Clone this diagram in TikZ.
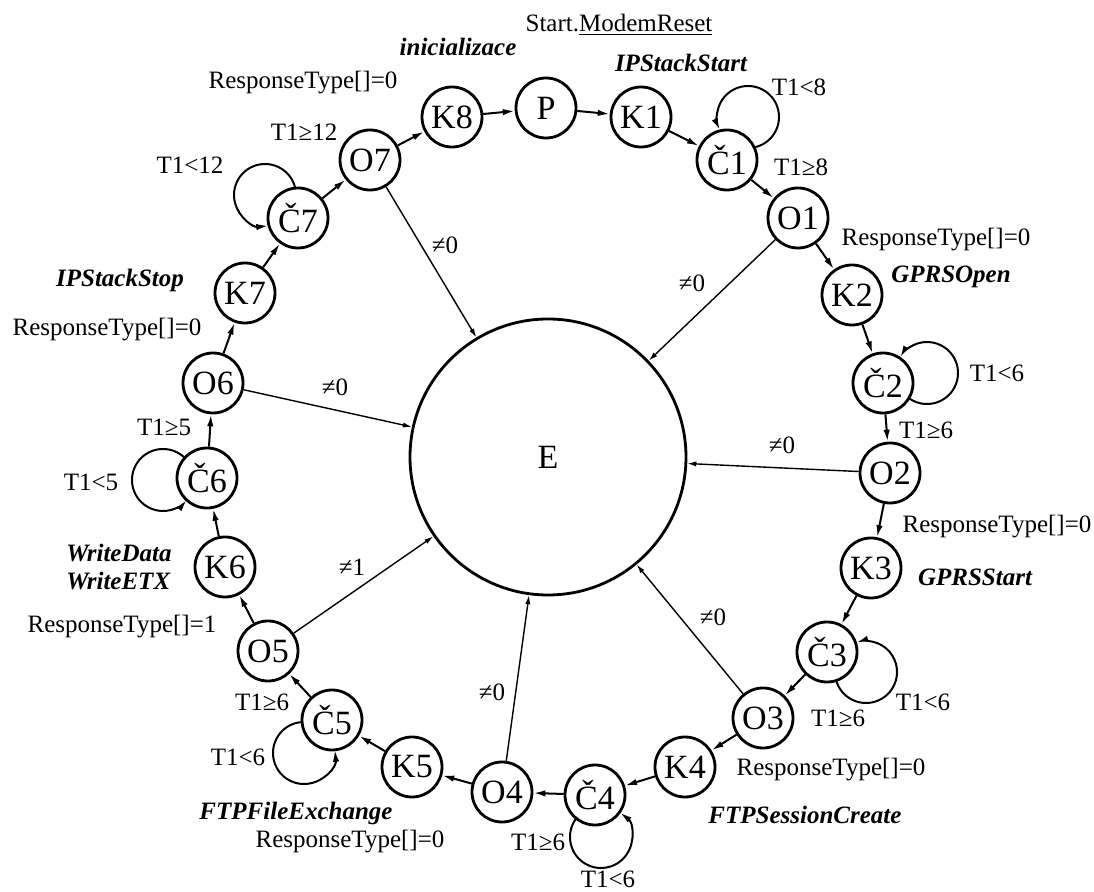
\documentclass[tikz,border=0pt]{standalone}
\usepackage{fontspec}
\setmainfont{Liberation Serif}
\usetikzlibrary{arrows.meta,calc}

\begin{document}
\begin{tikzpicture}[x=0.5pt, y=0.5pt,
  st/.style={draw, circle, line width=1.4pt, minimum size=30pt, inner sep=0pt, font=\fontsize{17}{17}\selectfont},
  bigst/.style={draw, circle, line width=1.4pt, minimum size=138pt, inner sep=0pt, font=\fontsize{17}{17}\selectfont},
  lbl/.style={inner sep=0pt, font=\fontsize{12.5}{14}\selectfont},
  act/.style={inner sep=0pt, align=left, font=\fontsize{12.5}{14}\selectfont\bfseries\itshape},
  arr/.style={-{Latex[length=6pt,width=3.2pt]}, line width=1pt},
  errarr/.style={-{Latex[length=4.5pt,width=2.6pt]}, line width=0.7pt}
]
  \useasboundingbox (0,0) rectangle (1094,-892);

  % states on the ring
  \node[st] (p) at (546,-108) {P};
  \node[st] (k1) at (641,-117) {K1};
  \node[st] (c1) at (727,-160) {Č1};
  \node[st] (o1) at (798,-218) {O1};
  \node[st] (k2) at (852,-295) {K2};
  \node[st] (c2) at (883,-383) {Č2};
  \node[st] (o2) at (890,-473) {O2};
  \node[st] (k3) at (871,-568) {K3};
  \node[st] (c3) at (827,-652) {Č3};
  \node[st] (o3) at (763,-718) {O3};
  \node[st] (k4) at (685,-767) {K4};
  \node[st] (c4) at (595,-795) {Č4};
  \node[st] (o4) at (502,-792) {O4};
  \node[st] (k5) at (412,-767) {K5};
  \node[st] (c5) at (332,-720) {Č5};
  \node[st] (o5) at (268,-651) {O5};
  \node[st] (k6) at (225,-567) {K6};
  \node[st] (c6) at (207,-478) {Č6};
  \node[st] (o6) at (213,-383) {O6};
  \node[st] (k7) at (245,-293) {K7};
  \node[st] (c7) at (298,-218) {Č7};
  \node[st] (o7) at (370,-160) {O7};
  \node[st] (k8) at (452,-117) {K8};
  \node[bigst] (e) at (548,-457) {E};

  % ring
  \draw[arr] (k8) -- (p);
  \draw[arr] (p) -- (k1);
  \draw[arr] (k1) -- (c1);
  \draw[arr] (c1) -- (o1);
  \draw[arr] (o1) -- (k2);
  \draw[arr] (k2) -- (c2);
  \draw[arr] (c2) -- (o2);
  \draw[arr] (o2) -- (k3);
  \draw[arr] (k3) -- (c3);
  \draw[arr] (c3) -- (o3);
  \draw[arr] (o3) -- (k4);
  \draw[arr] (k4) -- (c4);
  \draw[arr] (c4) -- (o4);
  \draw[arr] (o4) -- (k5);
  \draw[arr] (k5) -- (c5);
  \draw[arr] (c5) -- (o5);
  \draw[arr] (o5) -- (k6);
  \draw[arr] (k6) -- (c6);
  \draw[arr] (c6) -- (o6);
  \draw[arr] (o6) -- (k7);
  \draw[arr] (k7) -- (c7);
  \draw[arr] (c7) -- (o7);
  \draw[arr] (o7) -- (k8);

  % waiting loops
  \draw[arr] ($(c1)+(21,43)+(-78:31)$) arc[start angle=-78, end angle=205, radius=31];
  \draw[arr] ($(c2)+(44,10)+(-124:31)$) arc[start angle=-124, end angle=150, radius=31];
  \draw[arr] ($(c3)+(39,-20)+(-163:31)$) arc[start angle=-163, end angle=108, radius=31];
  \draw[arr] ($(c4)+(6,-42)+(-215:31)$) arc[start angle=-215, end angle=52, radius=31];
  \draw[arr] ($(c5)+(-28,-33)+(-264:31)$) arc[start angle=-264, end angle=6, radius=31];
  \draw[arr] ($(c6)+(-44,-2)+(45:31)$) arc[start angle=45, end angle=320, radius=31];
  \draw[arr] ($(c7)+(-33,23)+(15:31)$) arc[start angle=15, end angle=276, radius=31];

  % errors
  \draw[errarr] (o1) -- (e);
  \draw[errarr] (o2) -- (e);
  \draw[errarr] (o3) -- (e);
  \draw[errarr] (o4) -- (e);
  \draw[errarr] (o5) -- (e);
  \draw[errarr] (o6) -- (e);
  \draw[errarr] (o7) -- (e);

  % labels
  \node[lbl] (start) at (619,-25) {Start.\underline{ModemReset}};
  \node[act] (init) at (458,-47) {inicializace};
  \node[act] (ipstart) at (681,-63) {IPStackStart};
  \node[lbl] (t18a) at (799,-87) {T1<8};
  \node[lbl] (t18b) at (801,-167) {T1≥8};
  \node[lbl] (rt1) at (936,-240) {ResponseType[]=0};
  \node[act] (gopen) at (951,-277) {GPRSOpen};
  \node[lbl] (t26a) at (997,-373) {T1<6};
  \node[lbl] (t26b) at (926,-430) {T1≥6};
  \node[lbl] (ne1) at (692,-283) {≠0};
  \node[lbl] (ne2) at (782,-445) {≠0};
  \node[lbl] (rt2) at (997,-527) {ResponseType[]=0};
  \node[act] (gstart) at (975,-577) {GPRSStart};
  \node[lbl] (ne3) at (713,-617) {≠0};
  \node[lbl] (t36a) at (923,-702) {T1<6};
  \node[lbl] (t36b) at (838,-718) {T1≥6};
  \node[lbl] (rt3) at (831,-770) {ResponseType[]=0};
  \node[act] (fsess) at (805,-815) {FTPSessionCreate};
  \node[lbl] (t46b) at (538,-842) {T1≥6};
  \node[lbl] (t46a) at (608,-879) {T1<6};
  \node[lbl] (ne4) at (492,-692) {≠0};
  \node[act] (fexch) at (296,-813) {FTPFileExchange};
  \node[lbl] (rt4) at (350,-842) {ResponseType[]=0};
  \node[lbl] (t56b) at (262,-702) {T1≥6};
  \node[lbl] (t56a) at (238,-757) {T1<6};
  \node[lbl] (ne5) at (352,-567) {≠1};
  \node[lbl] (rt5) at (122,-627) {ResponseType[]=1};
  \node[act] (wdata) at (119,-567) {WriteData\\WriteETX};
  \node[lbl] (t65a) at (91,-482) {T1<5};
  \node[lbl] (t65b) at (164,-427) {T1≥5};
  \node[lbl] (ne6) at (335,-387) {≠0};
  \node[lbl] (rt6) at (107,-330) {ResponseType[]=0};
  \node[act] (ipstop) at (120,-280) {IPStackStop};
  \node[lbl] (t712a) at (190,-165) {T1<12};
  \node[lbl] (t712b) at (304,-132) {T1≥12};
  \node[lbl] (rt7) at (303,-83) {ResponseType[]=0};
  \node[lbl] (ne7) at (445,-245) {≠0};
\end{tikzpicture}
\end{document}
